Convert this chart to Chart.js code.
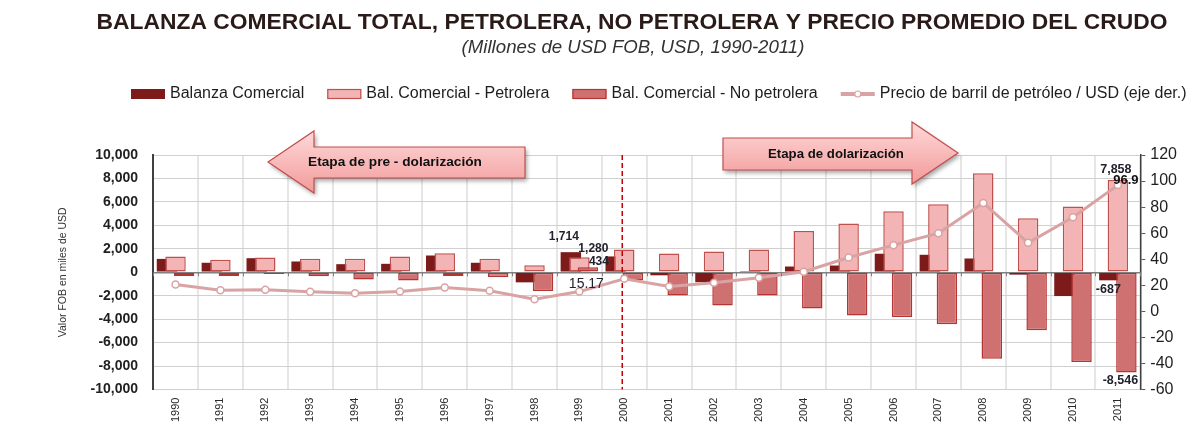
<!DOCTYPE html>
<html lang="es">
<head>
<meta charset="UTF-8">
<title>Balanza comercial Ecuador 1990-2011</title>
<script src="https://cdn.jsdelivr.net/npm/chart.js"></script>
<style>
  body { margin: 0; background: #fff; }
  #contenedor { width: 1203px; height: 432px; }
</style>
</head>
<body>
<div id="contenedor"><canvas id="grafico"></canvas></div>
<script>
// datos (millones de USD FOB y USD por barril)
const anios = ['1990', '1991', '1992', '1993', '1994', '1995', '1996', '1997', '1998', '1999', '2000',
  '2001', '2002', '2003', '2004', '2005', '2006', '2007', '2008', '2009', '2010', '2011'];
const balanzaTotal = [1140, 810, 1200, 920, 690, 720, 1430, 810, -860, 1714, 1350,
  -260, -850, 100, 490, 575, 1580, 1490, 1175, -200, -2030, -687];
const balanzaPetrolera = [1350, 1065, 1260, 1150, 1150, 1350, 1630, 1150, 600, 1280, 1950,
  1605, 1775, 1950, 3520, 4150, 5210, 5810, 8445, 4605, 5605, 7858];
const balanzaNoPetrolera = [-310, -310, -140, -345, -625, -710, -310, -395, -1595, 434, -710,
  -1975, -2830, -1975, -3090, -3690, -3805, -4435, -7375, -4950, -7660, -8546];
const precioCrudo = [20.6, 16.2, 16.5, 15.0, 13.9, 15.2, 18.3, 15.8, 9.3, 15.17, 25.0,
  19.1, 21.9, 25.8, 30.4, 41.3, 50.8, 60.0, 83.2, 52.6, 72.2, 96.9];
const ticksIzq = [-10000, -8000, -6000, -4000, -2000, 0, 2000, 4000, 6000, 8000, 10000];
const ticksDer = [-60, -40, -20, 0, 20, 40, 60, 80, 100, 120];

const FUENTE = '"Liberation Sans", Arial, sans-serif';
const colores = {
  total: '#7d1b1b',
  petro: '#f2b4b4', petroBorde: '#c0504d',
  noPetro: '#cf7171', noPetroBorde: '#b53434',
  precio: '#d9a3a3'
};

Chart.defaults.font.family = FUENTE;
Chart.defaults.color = '#262626';

// tamaño de letra para que un texto ocupe un ancho dado
function ajustarFuente(ctx, texto, ancho, estilo) {
  ctx.font = estilo + ' 20px ' + FUENTE;
  const t = 20 * ancho / ctx.measureText(texto).width;
  return estilo + ' ' + t.toFixed(2) + 'px ' + FUENTE;
}

function lineaDolarizacion(chart) {
  const { ctx, chartArea: a, scales: { x } } = chart;
  const px = x.getPixelForValue(anios.indexOf('2000')) - 2;
  ctx.save();
  ctx.strokeStyle = '#c00000';
  ctx.lineWidth = 1.5;
  ctx.setLineDash([5, 3]);
  ctx.beginPath();
  ctx.moveTo(px, a.top);
  ctx.lineTo(px, a.bottom);
  ctx.stroke();
  ctx.restore();
}

// barras dibujadas de izquierda a derecha (la de la derecha queda encima), luego la linea
const ordenDibujo = {
  id: 'ordenDibujo',
  beforeDatasetsDraw(chart) {
    const ctx = chart.ctx;
    chart.getSortedVisibleDatasetMetas().forEach(meta => {
      if (meta.type === 'line') lineaDolarizacion(chart);
      ctx.save();
      meta.controller.draw();
      ctx.restore();
    });
    return false;
  }
};

function flecha(ctx, pts, texto, cx, cy, ancho) {
  ctx.save();
  ctx.beginPath();
  pts.forEach((p, i) => i ? ctx.lineTo(p[0], p[1]) : ctx.moveTo(p[0], p[1]));
  ctx.closePath();
  const ys = pts.map(p => p[1]);
  const g = ctx.createLinearGradient(0, Math.min(...ys), 0, Math.max(...ys));
  g.addColorStop(0, '#ffd9d9');
  g.addColorStop(1, '#f29a9a');
  ctx.shadowColor = 'rgba(0,0,0,0.35)';
  ctx.shadowBlur = 4;
  ctx.shadowOffsetX = 2;
  ctx.shadowOffsetY = 3;
  ctx.fillStyle = g;
  ctx.fill();
  ctx.shadowColor = 'transparent';
  ctx.strokeStyle = '#c0504d';
  ctx.lineWidth = 1.2;
  ctx.stroke();
  ctx.font = ajustarFuente(ctx, texto, ancho, 'bold');
  ctx.fillStyle = '#111';
  ctx.textAlign = 'center';
  ctx.textBaseline = 'middle';
  ctx.fillText(texto, cx, cy);
  ctx.restore();
}

function etiqueta(ctx, texto, x, y, tam, peso, color) {
  ctx.font = (peso || 'bold') + ' ' + tam + 'px ' + FUENTE;
  ctx.fillStyle = color || '#22222e';
  ctx.textAlign = 'center';
  ctx.textBaseline = 'middle';
  ctx.fillText(texto, x, y);
}

const adornos = {
  id: 'adornos',
  afterDraw(chart) {
    const { ctx, scales: { x, y } } = chart;
    ctx.save();

    // marcas del eje de categorias sobre el cero
    const y0 = y.getPixelForValue(0);
    const medio = (x.getPixelForValue(1) - x.getPixelForValue(0)) / 2;
    ctx.strokeStyle = '#7f7f7f';
    ctx.lineWidth = 1;
    for (let i = 0; i <= anios.length; i++) {
      const px = Math.round(x.getPixelForValue(i) - medio) + 0.5;
      ctx.beginPath();
      ctx.moveTo(px, y0);
      ctx.lineTo(px, y0 + 4);
      ctx.stroke();
    }

    // etiquetas de datos
    const m0 = chart.getDatasetMeta(0).data, m1 = chart.getDatasetMeta(1).data;
    const m2 = chart.getDatasetMeta(2).data, m3 = chart.getDatasetMeta(3).data;
    const i99 = anios.indexOf('1999'), i11 = anios.indexOf('2011');
    const fmt = v => v.toLocaleString('en-US');
    etiqueta(ctx, fmt(balanzaTotal[i99]), m0[i99].x - 7, m0[i99].y - 15, 12);
    etiqueta(ctx, fmt(balanzaPetrolera[i99]), m1[i99].x + 14, m1[i99].y - 9, 12);
    etiqueta(ctx, fmt(balanzaNoPetrolera[i99]), m2[i99].x + 11, m2[i99].y - 5, 12);
    etiqueta(ctx, precioCrudo[i99].toFixed(2), m3[i99].x + 7, m3[i99].y - 7, 14, 'normal');
    etiqueta(ctx, fmt(balanzaPetrolera[i11]), m1[i11].x - 2, m1[i11].y - 11, 12.5);
    etiqueta(ctx, precioCrudo[i11].toFixed(1), m3[i11].x + 8, m3[i11].y - 5, 13, 'bold', '#111');
    etiqueta(ctx, fmt(balanzaTotal[i11]), m0[i11].x - 1, m0[i11].y + 9, 12.5);
    etiqueta(ctx, fmt(balanzaNoPetrolera[i11]), m2[i11].x - 6, m2[i11].y + 8.5, 12.5);

    // flechas de etapas
    flecha(ctx, [[268, 162], [314, 131], [314, 147], [525, 147], [525, 178], [314, 178], [314, 193]],
      'Etapa de pre - dolarización', 395, 162, 174);
    flecha(ctx, [[723, 138], [912, 138], [912, 122], [958, 153], [912, 184], [912, 170], [723, 170]],
      'Etapa de dolarización', 836, 154, 136);

    // titulo y subtitulo
    const titulo = 'BALANZA COMERCIAL TOTAL, PETROLERA, NO PETROLERA Y PRECIO PROMEDIO DEL CRUDO';
    ctx.font = ajustarFuente(ctx, titulo, 1071, 'bold');
    ctx.fillStyle = '#2b1b18';
    ctx.textAlign = 'center';
    ctx.textBaseline = 'middle';
    ctx.fillText(titulo, 632, 23);
    const subtitulo = '(Millones de USD FOB, USD, 1990-2011)';
    ctx.font = ajustarFuente(ctx, subtitulo, 343, 'italic');
    ctx.fillStyle = '#333';
    ctx.fillText(subtitulo, 633, 48);

    // leyenda
    const items = chart.data.datasets;
    const ly = 94;
    let lx = 131;
    ctx.font = '16px ' + FUENTE;
    ctx.textAlign = 'left';
    items.forEach(ds => {
      if (ds.type === 'line') {
        ctx.strokeStyle = colores.precio;
        ctx.lineWidth = 4;
        ctx.beginPath();
        ctx.moveTo(lx, ly);
        ctx.lineTo(lx + 34, ly);
        ctx.stroke();
        ctx.beginPath();
        ctx.arc(lx + 17, ly, 3, 0, Math.PI * 2);
        ctx.fillStyle = '#fff';
        ctx.fill();
        ctx.lineWidth = 1.2;
        ctx.stroke();
      } else {
        ctx.fillStyle = ds.backgroundColor;
        ctx.fillRect(lx, ly - 5, 34, 10);
        if (ds.borderWidth) {
          ctx.strokeStyle = ds.borderColor;
          ctx.lineWidth = 1.2;
          ctx.strokeRect(lx + 0.5, ly - 4.5, 33, 9);
        }
      }
      lx += 39;
      ctx.fillStyle = '#1e1e1e';
      ctx.fillText(ds.label, lx, ly);
      lx += ctx.measureText(ds.label).width + 23;
    });
    ctx.restore();
  }
};

new Chart(document.getElementById('grafico'), {
  type: 'bar',
  data: {
    labels: anios,
    datasets: [
      {
        label: 'Balanza Comercial',
        data: balanzaTotal,
        backgroundColor: colores.total,
        borderWidth: 0,
        yAxisID: 'y'
      },
      {
        label: 'Bal. Comercial - Petrolera',
        data: balanzaPetrolera,
        backgroundColor: colores.petro,
        borderColor: colores.petroBorde,
        borderWidth: 1.5,
        yAxisID: 'y'
      },
      {
        label: 'Bal. Comercial - No petrolera',
        data: balanzaNoPetrolera,
        backgroundColor: colores.noPetro,
        borderColor: colores.noPetroBorde,
        borderWidth: 1.5,
        yAxisID: 'y'
      },
      {
        type: 'line',
        label: 'Precio de barril de petróleo / USD (eje der.)',
        data: precioCrudo,
        yAxisID: 'y1',
        borderColor: colores.precio,
        borderWidth: 3,
        pointRadius: 3.5,
        pointBackgroundColor: '#fff',
        pointBorderColor: colores.precio,
        pointBorderWidth: 1.5,
        tension: 0
      }
    ]
  },
  options: {
    responsive: true,
    maintainAspectRatio: false,
    animation: false,
    datasets: {
      bar: { barPercentage: 2.4, categoryPercentage: 0.57, borderSkipped: false }
    },
    layout: { padding: { top: 155, left: 53, right: 21, bottom: 2 } },
    plugins: {
      legend: { display: false },
      tooltip: { enabled: false }
    },
    scales: {
      x: {
        offset: true,
        grid: { offset: true, color: '#e6e6e6', lineWidth: 2, drawTicks: false },
        border: { color: '#cfcfcf' },
        ticks: { autoSkip: false, minRotation: 90, maxRotation: 90, padding: 8, color: '#2a2a2a', font: { size: 11 } }
      },
      y: {
        position: 'left',
        min: -10000,
        max: 10000,
        afterBuildTicks: ax => { ax.ticks = ticksIzq.map(v => ({ value: v })); },
        grid: {
          drawTicks: false,
          color: c => c.tick && c.tick.value === 0 ? '#808080' : '#d0d0d0',
          lineWidth: c => c.tick && c.tick.value === 0 ? 1.5 : 1
        },
        border: { color: '#404040', width: 2 },
        ticks: {
          padding: 15,
          color: '#1f1f1f',
          font: { size: 14, weight: 'bold' },
          callback: v => v.toLocaleString('en-US')
        },
        title: {
          display: true, text: 'Valor FOB en miles de USD', color: '#333',
          font: { size: 10.5 }, padding: { top: 4, bottom: 6 }
        }
      },
      y1: {
        position: 'right',
        min: -60,
        max: 120,
        afterBuildTicks: ax => { ax.ticks = ticksDer.map(v => ({ value: v })); },
        grid: { drawOnChartArea: false, color: '#595959', tickLength: 5 },
        border: { color: '#404040', width: 1.5 },
        ticks: { padding: 5, color: '#1f1f1f', font: { size: 16 } }
      }
    }
  },
  plugins: [ordenDibujo, adornos]
});
</script>
</body>
</html>
